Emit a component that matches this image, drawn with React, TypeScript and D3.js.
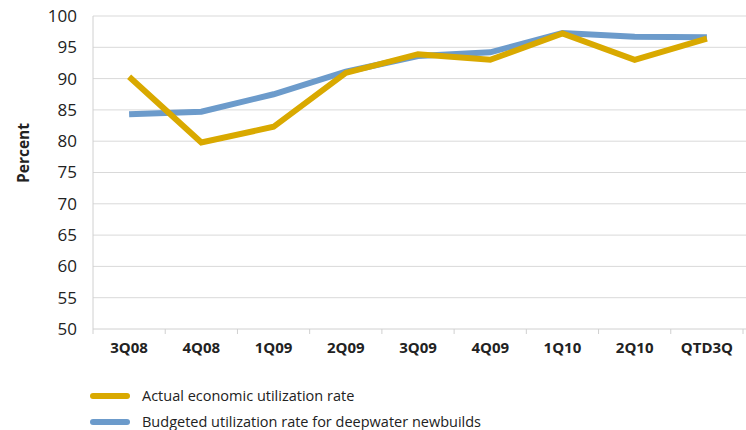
import React from "react";
import * as d3 from "d3";

const categories = ["3Q08", "4Q08", "1Q09", "2Q09", "3Q09", "4Q09", "1Q10", "2Q10", "QTD3Q"];
const actualRate = [90.3, 79.8, 82.3, 90.9, 93.9, 93.0, 97.2, 93.0, 96.4];
const budgetedRate = [84.3, 84.7, 87.5, 91.1, 93.6, 94.2, 97.3, 96.7, 96.6];
const yTicks = [50, 55, 60, 65, 70, 75, 80, 85, 90, 95, 100];
const seriesNames = ["Actual economic utilization rate", "Budgeted utilization rate for deepwater newbuilds"];
const seriesColors = ["#D9A900", "#6C9BCB"];

const W = 746;
const H = 430;
const plot = { left: 93, right: 743, top: 16, bottom: 329 };
const FONT = "'Open Sans', 'Noto Sans', sans-serif";

export default function App() {
  const x = d3.scaleBand<string>().domain(categories).range([plot.left, plot.right]);
  const y = d3.scaleLinear().domain([50, 100]).range([plot.bottom, plot.top]);
  const line = d3
    .line<number>()
    .x((_, i) => (x(categories[i]) as number) + x.bandwidth() / 2)
    .y((d) => y(d));

  const tickXs = [...categories.map((c) => x(c) as number), plot.right];

  return (
    <svg width={W} height={H} style={{ position: "absolute", left: 0, top: 0 }}>
      <rect width={W} height={H} fill="#fff" />
      {yTicks.map((t) => (
        <g key={t}>
          {t > 50 && (
            <line x1={plot.left} x2={W} y1={y(t)} y2={y(t)} stroke="#d9d9d9" strokeWidth={1} />
          )}
          <text
            x={77}
            y={y(t)}
            dy="0.35em"
            textAnchor="end"
            fontFamily={FONT}
            fontSize={17}
            fill="#222"
          >
            {t}
          </text>
        </g>
      ))}
      <line x1={plot.left} x2={plot.left} y1={plot.top} y2={plot.bottom} stroke="#d0d0d0" />
      <line x1={plot.left} x2={W} y1={plot.bottom} y2={plot.bottom} stroke="#d0d0d0" />
      {tickXs.map((tx, i) => (
        <line key={i} x1={tx} x2={tx} y1={plot.bottom} y2={plot.bottom + 5} stroke="#d0d0d0" />
      ))}
      {categories.map((c) => (
        <text
          key={c}
          x={(x(c) as number) + x.bandwidth() / 2}
          y={353}
          textAnchor="middle"
          fontFamily={FONT}
          fontWeight="bold"
          fontSize={15}
          fill="#222"
        >
          {c}
        </text>
      ))}
      <text
        transform="translate(29,153) rotate(-90)"
        textAnchor="middle"
        fontFamily={FONT}
        fontWeight="bold"
        fontSize={15.5}
        fill="#222"
      >
        Percent
      </text>
      <path
        d={line(budgetedRate) || ""}
        fill="none"
        stroke={seriesColors[1]}
        strokeWidth={6}
        strokeLinejoin="miter"
      />
      <path
        d={line(actualRate) || ""}
        fill="none"
        stroke={seriesColors[0]}
        strokeWidth={6}
        strokeLinejoin="miter"
      />
      {seriesNames.map((n, i) => (
        <g key={n} transform={`translate(0,${396 + i * 26})`}>
          <line
            x1={93}
            x2={127}
            y1={0}
            y2={0}
            stroke={seriesColors[i]}
            strokeWidth={6}
            strokeLinecap="round"
          />
          <text x={142} y={0} dy="0.35em" fontFamily={FONT} fontSize={14.5} fill="#222">
            {n}
          </text>
        </g>
      ))}
    </svg>
  );
}
